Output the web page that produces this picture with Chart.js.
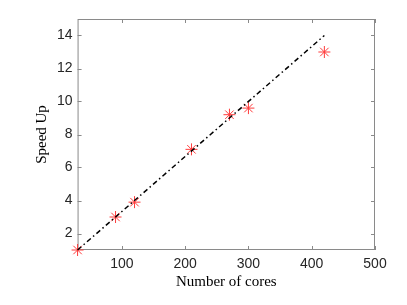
<!DOCTYPE html>
<html>
<head>
<meta charset="utf-8">
<script src="https://cdn.jsdelivr.net/npm/chart.js@4.4.1/dist/chart.umd.min.js"></script>
<style>
    html, body { margin: 0; padding: 0; background: #fff; }
    #wrap { width: 407px; height: 305px; }
</style>
</head>
<body>
<div id="wrap"><canvas id="speedup-chart"></canvas></div>
<script>
// measured speed up vs cores
const cores = [30, 90, 120, 210, 270, 300, 420];
const speedUp = [1, 3, 3.9, 7.1, 9.2, 9.6, 13];

// ideal linear speed up
const idealCores = [30, 420];
const idealSpeedUp = [1, 14];

const xTicks = [100, 200, 300, 400, 500];
const yTicks = [2, 4, 6, 8, 10, 12, 14];

const axisColor = '#8a8a8a';
const labelColor = '#262626';

// MATLAB style box with inward ticks on all sides
const boxTicks = {
    id: 'boxTicks',
    beforeDatasetsDraw(chart) {
        const ctx = chart.ctx;
        const a = chart.chartArea;
        const xs = chart.scales.x, ys = chart.scales.y;
        const len = 4;
        ctx.save();
        ctx.strokeStyle = axisColor;
        ctx.lineWidth = 1;
        ctx.strokeRect(a.left + 0.5, a.top + 0.5, a.right - a.left - 1, a.bottom - a.top - 1);
        ctx.beginPath();
        xTicks.forEach(v => {
            const px = Math.round(xs.getPixelForValue(v)) + 0.5;
            ctx.moveTo(px, a.bottom); ctx.lineTo(px, a.bottom - len);
            ctx.moveTo(px, a.top); ctx.lineTo(px, a.top + len);
        });
        yTicks.forEach(v => {
            const py = Math.round(ys.getPixelForValue(v)) + 0.5;
            ctx.moveTo(a.left, py); ctx.lineTo(a.left + len, py);
            ctx.moveTo(a.right, py); ctx.lineTo(a.right - len, py);
        });
        ctx.stroke();
        ctx.restore();
    }
};

new Chart(document.getElementById('speedup-chart'), {
    type: 'scatter',
    data: {
        datasets: [{
            label: 'Ideal',
            data: idealCores.map((c, i) => ({ x: c, y: idealSpeedUp[i] })),
            showLine: true,
            borderColor: '#000',
            borderWidth: 1.5,
            borderDash: [5, 3, 1.5, 3],
            pointRadius: 0,
            fill: false,
            clip: false
        }, {
            label: 'Measured',
            data: cores.map((c, i) => ({ x: c, y: speedUp[i] })),
            pointStyle: 'star',
            pointRadius: 6,
            pointBorderColor: '#ff3b3b',
            pointBorderWidth: 1,
            pointBackgroundColor: 'transparent',
            clip: false
        }]
    },
    options: {
        responsive: true,
        maintainAspectRatio: false,
        animation: false,
        layout: {
            padding: { top: 19, right: 32, left: 33, bottom: 15 }
        },
        plugins: {
            legend: { display: false },
            tooltip: { enabled: false }
        },
        scales: {
            x: {
                type: 'linear',
                min: 30,
                max: 500,
                afterBuildTicks: scale => { scale.ticks = xTicks.map(v => ({ value: v })); },
                grid: { display: false, drawTicks: false },
                border: { display: false },
                ticks: {
                    color: labelColor,
                    padding: 7,
                    maxRotation: 0,
                    font: { family: 'Liberation Sans', size: 14, lineHeight: 1 }
                },
                title: {
                    display: true,
                    text: 'Number of cores',
                    color: '#000',
                    padding: { top: -3, bottom: 0 },
                    font: { family: 'Liberation Serif', size: 15, lineHeight: 1 }
                }
            },
            y: {
                type: 'linear',
                min: 1,
                max: 15,
                afterBuildTicks: scale => { scale.ticks = yTicks.map(v => ({ value: v })); },
                grid: { display: false, drawTicks: false },
                border: { display: false },
                ticks: {
                    color: labelColor,
                    padding: 5,
                    font: { family: 'Liberation Sans', size: 14 }
                },
                title: {
                    display: true,
                    text: 'Speed Up',
                    color: '#000',
                    padding: { top: 0, bottom: 1 },
                    font: { family: 'Liberation Serif', size: 15 }
                }
            }
        }
    },
    plugins: [boxTicks]
});
</script>
</body>
</html>
